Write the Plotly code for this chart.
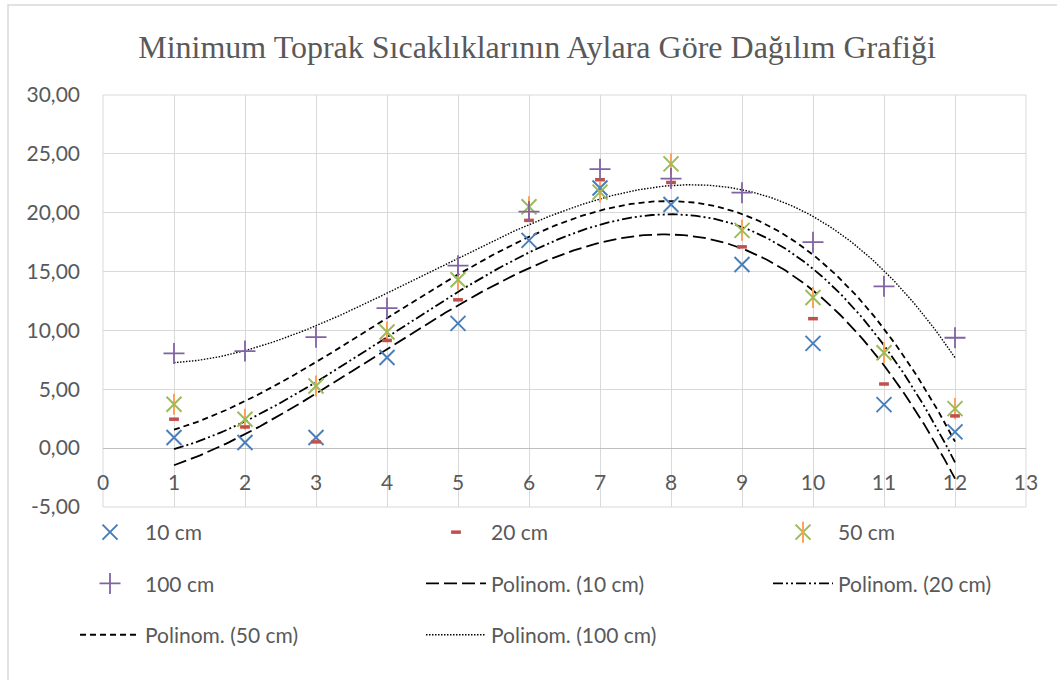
import numpy as np
import plotly.graph_objects as go

# Months (Aylar)
months = [1, 2, 3, 4, 5, 6, 7, 8, 9, 10, 11, 12]

# Minimum soil temperatures by depth
t_10cm = [0.90, 0.48, 0.90, 7.70, 10.60, 17.65, 22.10, 20.70, 15.60, 8.90, 3.70, 1.38]
t_20cm = [2.46, 1.80, 0.53, 9.15, 12.60, 19.35, 22.80, 22.57, 17.10, 11.00, 5.45, 2.74]
t_50cm = [3.73, 2.46, 5.28, 9.86, 14.30, 20.50, 21.75, 24.15, 18.50, 12.80, 8.10, 3.36]
t_100cm = [8.05, 8.25, 9.43, 11.90, 15.50, 20.10, 23.70, 22.90, 21.70, 17.50, 13.75, 9.38]

series_names = ["10 cm", "20 cm", "50 cm", "100 cm"]
trend_names = ["Polinom. (10 cm)", "Polinom. (20 cm)", "Polinom. (50 cm)", "Polinom. (100 cm)"]

x_tick_vals = list(range(0, 14))
x_tick_labels = [str(v) for v in x_tick_vals]
y_tick_vals = [-5, 0, 5, 10, 15, 20, 25, 30]
y_tick_labels = ["-5,00", "0,00", "5,00", "10,00", "15,00", "20,00", "25,00", "30,00"]

TITLE = "Minimum Toprak Sıcaklıklarının Aylara Göre Dağılım Grafiği"

W, H = 1057, 680
ML, MR, MT, MB = 103, 31, 95, 173
PW, PH = W - ML - MR, H - MT - MB
Y_MIN, Y_MAX = -5, 30

GRID = "#d9d9d9"
TEXT = "#595959"
FONT = "Lato"

colors = ["#4a7ebb", "#c0504d", "#9bbb59", "#8064a2"]
marker_styles = [
    dict(symbol="x-thin-open", size=15, line=dict(width=2, color=colors[0])),
    dict(symbol="line-ew-open", size=7, line=dict(width=3.5, color=colors[1])),
    dict(symbol="x-thin-open", size=15, line=dict(width=2, color=colors[2])),
    dict(symbol="cross-thin-open", size=15, line=dict(width=1.8, color=colors[3])),
]
trend_dashes = ["13px,5px", "10px,3px,2px,3px,2px,3px", "6px,4px", "1.5px,1.5px"]
trend_widths = [1.8, 1.8, 1.8, 1.4]

data = [t_10cm, t_20cm, t_50cm, t_100cm]

# legend columns: col1 -> legend, col2 -> legend2, col3 -> legend3
scatter_legends = ["legend", "legend2", "legend3", "legend"]
trend_legends = ["legend2", "legend3", "legend", "legend2"]
scatter_rank = [1, 1, 1, 2]
trend_rank = [2, 2, 3, 3]

fig = go.Figure()

xs = np.array(months, dtype=float)
xfine = np.linspace(1, 12, 300)

# cubic trend lines, drawn under the markers
for i, (name, vals) in enumerate(zip(trend_names, data)):
    coef = np.polyfit(xs, np.array(vals), 3)
    fig.add_trace(go.Scatter(
        x=xfine, y=np.polyval(coef, xfine), mode="lines", name=name,
        line=dict(color="black", width=trend_widths[i], dash=trend_dashes[i]),
        legend=trend_legends[i], legendgroup=name, legendrank=trend_rank[i],
    ))

# 50 cm star: vertical bar completing the six-armed marker
fig.add_trace(go.Scatter(
    x=months, y=t_50cm, mode="markers", name=" ",
    marker=dict(symbol="line-ns-open", size=15, line=dict(width=2, color=colors[2])),
    legend="legend4",
))

for i, (name, vals) in enumerate(zip(series_names, data)):
    fig.add_trace(go.Scatter(
        x=months, y=vals, mode="markers", name=name,
        marker=dict(color=colors[i], **marker_styles[i]),
        legend=scatter_legends[i], legendgroup=name, legendrank=scatter_rank[i],
    ))


def py(px):
    return (H - MB - px) / PH


def pxx(px):
    return (px - ML) / PW


ITEMW = 60
legend_common = dict(
    orientation="v", font=dict(family=FONT, size=21, color=TEXT),
    bgcolor="rgba(0,0,0,0)", xanchor="left", yanchor="top",
    itemwidth=ITEMW, traceorder="grouped", tracegroupgap=21,
)
TEXT_OFF = ITEMW + 11
LEG_TOP = 512

fig.update_layout(
    width=W, height=H,
    margin=dict(l=ML, r=MR, t=MT, b=MB),
    paper_bgcolor="white", plot_bgcolor="white",
    title=dict(text=TITLE, x=537 / W, xref="container", xanchor="center",
               y=1 - 47 / H, yref="container", yanchor="middle",
               font=dict(family="Liberation Serif", size=32, color=TEXT)),
    xaxis=dict(range=[0, 13], tickvals=x_tick_vals, ticktext=x_tick_labels,
               showgrid=True, gridcolor=GRID, gridwidth=1, zeroline=False,
               showline=False, anchor="free", position=(0 - Y_MIN) / (Y_MAX - Y_MIN),
               ticks="", ticklabelstandoff=20,
               tickfont=dict(family=FONT, size=21, color=TEXT)),
    yaxis=dict(range=[Y_MIN, Y_MAX], tickvals=y_tick_vals, ticktext=y_tick_labels,
               showgrid=True, gridcolor=GRID, gridwidth=1,
               zeroline=True, zerolinecolor="#bfbfbf", zerolinewidth=1.2,
               showline=False, ticks="", ticklabelstandoff=22,
               tickfont=dict(family=FONT, size=21, color=TEXT)),
    legend=dict(x=pxx(146 - TEXT_OFF), y=py(LEG_TOP), **legend_common),
    legend2=dict(x=pxx(492 - TEXT_OFF), y=py(LEG_TOP), **legend_common),
    legend3=dict(x=pxx(839 - TEXT_OFF), y=py(LEG_TOP), **legend_common),
    legend4=dict(x=pxx(839 - TEXT_OFF), y=py(LEG_TOP), **legend_common),
    showlegend=True,
    shapes=[
        dict(type="rect", xref="x domain", yref="y domain", x0=0, x1=1, y0=0, y1=1,
             line=dict(color=GRID, width=1), layer="below"),
        dict(type="rect", xref="paper", yref="paper",
             x0=pxx(8), x1=pxx(1120), y0=py(720), y1=py(5),
             line=dict(color=GRID, width=1.5), layer="below"),
    ],
)

fig.write_html("out.html")
